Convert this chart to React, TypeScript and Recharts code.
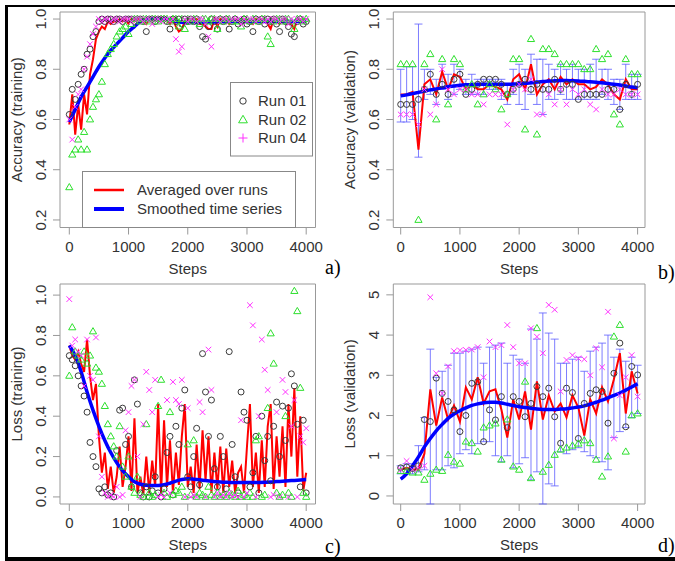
import React from 'react';
import { ComposedChart, Scatter, Line, XAxis, YAxis, ReferenceArea, ErrorBar } from 'recharts';

// training steps at which values were logged
const STEPS_50 = [
  0, 50, 100, 150, 200, 250, 300, 350, 400, 450,
  500, 550, 600, 650, 700, 750, 800, 850, 900, 950,
  1000, 1050, 1100, 1150, 1200, 1250, 1300, 1350, 1400, 1450,
  1500, 1550, 1600, 1650, 1700, 1750, 1800, 1850, 1900, 1950,
  2000, 2050, 2100, 2150, 2200, 2250, 2300, 2350, 2400, 2450,
  2500, 2550, 2600, 2650, 2700, 2750, 2800, 2850, 2900, 2950,
  3000, 3050, 3100, 3150, 3200, 3250, 3300, 3350, 3400, 3450,
  3500, 3550, 3600, 3650, 3700, 3750, 3800, 3850, 3900, 3950,
  4000,
];
const STEPS_100 = [
  0, 100, 200, 300, 400, 500, 600, 700, 800, 900,
  1000, 1100, 1200, 1300, 1400, 1500, 1600, 1700, 1800, 1900,
  2000, 2100, 2200, 2300, 2400, 2500, 2600, 2700, 2800, 2900,
  3000, 3100, 3200, 3300, 3400, 3500, 3600, 3700, 3800, 3900,
  4000,
];
const X_TICKS = [0, 1000, 2000, 3000, 4000];
const ACC_TICKS = [0.2, 0.4, 0.6, 0.8, 1.0];
const LOSS_TRAIN_TICKS = [0, 0.2, 0.4, 0.6, 0.8, 1.0];
const LOSS_VAL_TICKS = [0, 1, 2, 3, 4, 5];

// a) accuracy (training)
const accTrainRun01 = [
  0.62, 0.72, 0.68, 0.74, 0.78, 0.80, 0.86, 0.88, 0.93, 0.95,
  0.99, 1.0, 0.99, 1.0, 1.0, 0.99, 1.0, 1.0, 0.99, 1.0,
  1.0, 1.0, 0.99, 1.0, 1.0, 0.99, 0.95, 1.0, 1.0, 0.99,
  1.0, 1.0, 1.0, 0.99, 0.96, 1.0, 0.99, 1.0, 0.98, 1.0,
  0.99, 1.0, 0.99, 1.0, 0.97, 0.93, 0.92, 0.97, 1.0, 0.99,
  0.96, 1.0, 0.99, 1.0, 0.96, 0.99, 1.0, 0.98, 0.99, 1.0,
  0.98, 0.99, 0.95, 1.0, 0.99, 1.0, 0.98, 1.0, 0.99, 1.0,
  0.98, 0.95, 1.0, 0.99, 0.97, 0.94, 0.93, 0.99, 1.0, 0.98,
  0.99,
];
const accTrainRun02 = [
  0.33, 0.46, 0.48, 0.52, 0.48, 0.55, 0.48, 0.60, 0.65, 0.68,
  0.70, 0.75, 0.82, 0.86, 0.88, 0.90, 0.93, 0.95, 0.96, 0.97,
  0.94, 0.98, 1.0, 1.0, 0.99, 1.0, 1.0, 0.99, 1.0, 1.0,
  0.99, 1.0, 1.0, 1.0, 0.99, 1.0, 1.0, 0.97, 1.0, 0.96,
  1.0, 0.99, 1.0, 1.0, 0.98, 1.0, 1.0, 0.99, 1.0, 1.0,
  0.96, 1.0, 0.99, 1.0, 1.0, 0.99, 1.0, 0.99, 0.97, 1.0,
  1.0, 0.99, 1.0, 1.0, 0.99, 1.0, 1.0, 0.93, 0.90, 0.99,
  1.0, 1.0, 0.99, 1.0, 1.0, 0.99, 0.96, 1.0, 1.0, 0.99,
  1.0,
];
const accTrainRun04 = [
  0.60, 0.52, 0.65, 0.70, 0.72, 0.80, 0.85, 0.90, 0.94, 0.97,
  1.0, 0.99, 1.0, 1.0, 0.99, 1.0, 1.0, 0.99, 1.0, 1.0,
  1.0, 0.99, 1.0, 1.0, 1.0, 0.99, 1.0, 1.0, 0.98, 1.0,
  1.0, 0.99, 1.0, 1.0, 0.99, 1.0, 0.92, 0.87, 0.89, 1.0,
  0.99, 1.0, 1.0, 0.99, 1.0, 1.0, 0.98, 0.93, 0.89, 1.0,
  1.0, 0.99, 1.0, 1.0, 0.99, 1.0, 1.0, 1.0, 0.98, 1.0,
  0.99, 1.0, 1.0, 0.99, 1.0, 1.0, 0.99, 1.0, 0.99, 1.0,
  1.0, 0.99, 1.0, 1.0, 0.98, 1.0, 0.99, 1.0, 1.0, 0.99,
  1.0,
];
const accTrainAvg = [
  0.58, 0.70, 0.54, 0.66, 0.56, 0.70, 0.62, 0.78, 0.84, 0.92,
  0.95, 0.97, 0.96, 0.99, 0.98, 0.99, 0.99, 1.0, 0.99, 1.0,
  0.98, 1.0, 0.99, 1.0, 1.0, 0.99, 0.98, 1.0, 0.99, 1.0,
  1.0, 1.0, 1.0, 0.99, 0.98, 1.0, 0.97, 0.95, 0.96, 0.99,
  0.99, 1.0, 1.0, 1.0, 0.98, 0.98, 0.97, 0.96, 0.96, 1.0,
  0.97, 1.0, 0.99, 1.0, 0.98, 0.99, 1.0, 0.99, 0.98, 1.0,
  0.99, 0.99, 0.98, 1.0, 0.99, 1.0, 0.99, 0.98, 0.96, 1.0,
  0.99, 0.98, 1.0, 1.0, 0.98, 0.98, 0.96, 1.0, 1.0, 0.99,
  1.0,
];
const accTrainSmooth = [
  0.59, 0.64, 0.69, 0.73, 0.77, 0.81, 0.845, 0.875, 0.90, 0.925,
  0.95, 0.97, 0.99, 0.998, 1.0, 1.0, 1.0, 0.997, 0.99, 0.987,
  0.986, 0.986, 0.987, 0.988, 0.988, 0.989, 0.989, 0.99, 0.99, 0.99,
  0.99, 0.99, 0.99, 0.99, 0.99, 0.99, 0.99, 0.99, 0.99, 0.99,
  0.99,
];

// b) accuracy (validation)
const accValRun01 = [
  0.66, 0.66, 0.66, 0.68, 0.72, 0.78, 0.70, 0.74, 0.70, 0.76,
  0.78, 0.70, 0.72, 0.74, 0.76, 0.76, 0.76, 0.74, 0.70, 0.72,
  0.74, 0.76, 0.72, 0.74, 0.72, 0.72, 0.76, 0.72, 0.74, 0.74,
  0.68, 0.70, 0.70, 0.70, 0.70, 0.72, 0.72, 0.64, 0.74, 0.70,
  0.74,
];
const accValRun02 = [
  0.82, 0.82, 0.82, 0.20, 0.82, 0.86, 0.60, 0.84, 0.66, 0.84,
  0.82, 0.72, 0.74, 0.66, 0.70, 0.74, 0.72, 0.64, 0.70, 0.84,
  0.84, 0.56, 0.92, 0.54, 0.88, 0.88, 0.86, 0.82, 0.82, 0.82,
  0.82, 0.80, 0.80, 0.88, 0.84, 0.86, 0.62, 0.58, 0.84, 0.78,
  0.78,
];
const accValRun04 = [
  0.62, 0.62, 0.62, 0.58, 0.72, 0.62, 0.66, 0.80, 0.72, 0.70,
  0.72, 0.72, 0.70, 0.70, 0.66, 0.70, 0.70, 0.70, 0.58, 0.72,
  0.74, 0.72, 0.76, 0.62, 0.62, 0.70, 0.66, 0.72, 0.66, 0.72,
  0.70, 0.72, 0.66, 0.64, 0.72, 0.70, 0.70, 0.72, 0.70, 0.70,
  0.70,
];
const accValAvg = [
  0.70, 0.70, 0.71, 0.48, 0.74, 0.76, 0.70, 0.79, 0.72, 0.78,
  0.77, 0.72, 0.74, 0.72, 0.72, 0.74, 0.73, 0.72, 0.68, 0.76,
  0.78, 0.72, 0.82, 0.70, 0.74, 0.76, 0.72, 0.77, 0.74, 0.76,
  0.74, 0.74, 0.72, 0.73, 0.76, 0.74, 0.70, 0.68, 0.76, 0.72,
  0.72,
];
const accValSmooth = [
  0.694, 0.698, 0.703, 0.708, 0.713, 0.718, 0.722, 0.726, 0.73, 0.733,
  0.736, 0.738, 0.739, 0.74, 0.74, 0.74, 0.74, 0.74, 0.74, 0.741,
  0.742, 0.744, 0.746, 0.749, 0.751, 0.753, 0.754, 0.755, 0.755, 0.754,
  0.753, 0.752, 0.75, 0.748, 0.746, 0.743, 0.74, 0.737, 0.733, 0.729,
  0.726,
];
const accValLow = [
  0.59, 0.59, 0.60, 0.45, 0.68, 0.70, 0.66, 0.72, 0.68, 0.70,
  0.72, 0.70, 0.70, 0.70, 0.70, 0.72, 0.72, 0.68, 0.66, 0.70,
  0.66, 0.64, 0.70, 0.66, 0.62, 0.68, 0.68, 0.70, 0.68, 0.68,
  0.68, 0.68, 0.68, 0.68, 0.70, 0.68, 0.66, 0.64, 0.68, 0.68,
  0.68,
];
const accValHigh = [
  0.80, 0.81, 0.81, 0.98, 0.80, 0.80, 0.76, 0.82, 0.78, 0.82,
  0.80, 0.76, 0.78, 0.76, 0.76, 0.76, 0.76, 0.76, 0.74, 0.80,
  0.82, 0.80, 0.86, 0.84, 0.84, 0.82, 0.80, 0.82, 0.80, 0.82,
  0.80, 0.80, 0.82, 0.84, 0.80, 0.80, 0.76, 0.76, 0.82, 0.78,
  0.78,
];

// c) loss (training)
const lossTrainRun01 = [
  0.70, 0.68, 0.65, 0.60, 0.55, 0.50, 0.42, 0.27, 0.20, 0.15,
  0.04, 0.02, 0.05, 0.01, 0.02, 0.00, 0.23, 0.43, 0.44, 0.26,
  0.30, 0.05, 0.58, 0.46, 0.02, 0.00, 0.05, 0.00, 0.03, 0.10,
  0.02, 0.00, 0.04, 0.22, 0.30, 0.01, 0.35, 0.26, 0.44, 0.53,
  0.10, 0.05, 0.20, 0.34, 0.06, 0.71, 0.52, 0.30, 0.48, 0.14,
  0.05, 0.30, 0.20, 0.04, 0.72, 0.26, 0.10, 0.02, 0.52, 0.42,
  0.38, 0.05, 0.12, 0.30, 0.02, 0.40, 0.18, 0.30, 0.08, 0.35,
  0.47, 0.20, 0.45, 0.28, 0.44, 0.61, 0.55, 0.36, 0.05, 0.38,
  0.02,
];
const lossTrainRun02 = [
  0.60, 0.84, 0.72, 0.70, 0.68, 0.72, 0.66, 0.70, 0.82, 0.64,
  0.62, 0.56, 0.45, 0.36, 0.30, 0.25, 0.20, 0.35, 0.15, 0.10,
  0.20, 0.05, 0.02, 0.10, 0.01, 0.00, 0.36, 0.02, 0.00, 0.01,
  0.45, 0.58, 0.02, 0.00, 0.42, 0.01, 0.03, 0.02, 0.05, 0.00,
  0.26, 0.01, 0.28, 0.00, 0.02, 0.01, 0.00, 0.05, 0.01, 0.00,
  0.02, 0.00, 0.01, 0.00, 0.02, 0.01, 0.00, 0.03, 0.00, 0.01,
  0.00, 0.02, 0.00, 0.28, 0.30, 0.00, 0.01, 0.44, 0.81, 0.66,
  0.02, 0.00, 0.01, 0.40, 0.02, 0.00, 1.02, 0.92, 0.54, 0.02,
  0.00,
];
const lossTrainRun04 = [
  0.98, 0.75, 0.78, 0.72, 0.70, 0.55, 0.78, 0.60, 0.58, 0.79,
  0.30, 0.10, 0.02, 0.00, 0.01, 0.00, 0.05, 0.00, 0.01, 0.33,
  0.42, 0.55, 0.58, 0.20, 0.00, 0.36, 0.62, 0.53, 0.42, 0.58,
  0.00, 0.01, 0.00, 0.48, 0.02, 0.57, 0.48, 0.46, 0.58, 0.00,
  0.44, 0.00, 0.01, 0.00, 0.47, 0.42, 0.00, 0.73, 0.53, 0.00,
  0.02, 0.00, 0.01, 0.00, 0.02, 0.00, 0.01, 0.00, 0.38, 0.00,
  0.02, 0.95, 0.85, 0.00, 0.40, 0.78, 0.63, 0.53, 0.00, 0.01,
  0.42, 0.00, 0.58, 0.52, 0.00, 0.35, 0.48, 0.00, 0.30, 0.27,
  0.34,
];
const lossTrainAvg = [
  0.75, 0.70, 0.68, 0.72, 0.66, 0.62, 0.78, 0.60, 0.48, 0.56,
  0.30, 0.12, 0.22, 0.04, 0.15, 0.02, 0.10, 0.25, 0.05, 0.15,
  0.30, 0.03, 0.39, 0.02, 0.10, 0.01, 0.20, 0.02, 0.18, 0.05,
  0.46, 0.02, 0.38, 0.05, 0.28, 0.02, 0.22, 0.06, 0.30, 0.46,
  0.05, 0.15, 0.02, 0.26, 0.04, 0.33, 0.08, 0.30, 0.02, 0.22,
  0.04, 0.25, 0.02, 0.24, 0.05, 0.18, 0.02, 0.12, 0.15, 0.02,
  0.25, 0.46, 0.05, 0.22, 0.02, 0.28, 0.05, 0.35, 0.46, 0.04,
  0.30, 0.10, 0.35, 0.05, 0.46, 0.20, 0.54, 0.10, 0.40, 0.03,
  0.12,
];
const lossTrainSmooth = [
  0.75, 0.70, 0.62, 0.52, 0.43, 0.35, 0.28, 0.22, 0.17, 0.13,
  0.10, 0.075, 0.063, 0.058, 0.057, 0.057, 0.06, 0.068, 0.078, 0.086,
  0.09, 0.088, 0.085, 0.081, 0.078, 0.075, 0.073, 0.072, 0.071, 0.071,
  0.071, 0.071, 0.072, 0.073, 0.074, 0.076, 0.078, 0.08, 0.082, 0.084,
  0.086,
];

// d) loss (validation)
const lossValRun01 = [
  0.70, 0.72, 0.68, 0.75, 1.90, 1.85, 2.93, 2.55, 2.35, 2.14,
  1.60, 2.00, 2.80, 2.84, 1.35, 2.14, 1.89, 2.47, 1.70, 2.47,
  2.35, 1.97, 2.30, 2.72, 2.47, 2.68, 1.97, 1.31, 2.68, 2.57,
  1.43, 2.30, 2.55, 2.64, 2.60, 1.81, 3.05, 3.80, 1.72, 3.22,
  3.01,
];
const lossValRun02 = [
  0.62, 0.62, 0.58, 0.58, 0.40, 0.55, 0.65, 0.62, 1.02, 0.85,
  0.80, 1.35, 1.31, 1.10, 1.70, 1.75, 1.80, 0.90, 1.90, 0.73,
  0.65, 2.84, 0.44, 4.17, 0.60, 0.77, 1.02, 1.15, 1.20, 1.25,
  1.30, 1.38, 1.31, 0.90, 0.48, 0.98, 3.96, 4.25, 1.10, 2.00,
  2.05,
];
const lossValRun04 = [
  0.65, 0.87, 0.65, 0.70, 0.75, 4.94, 3.05, 2.55, 3.22, 3.60,
  3.62, 3.63, 3.64, 3.70, 2.95, 3.84, 3.70, 3.75, 4.25, 3.70,
  3.30, 3.30, 4.17, 3.96, 3.55, 4.75, 4.63, 2.60, 3.38, 3.50,
  3.42, 3.40, 3.00, 3.67, 3.20, 4.58, 1.43, 2.50, 2.95, 3.50,
  2.47,
];
const lossValAvg = [
  0.65, 0.70, 0.66, 0.66, 1.05, 2.65, 1.75, 2.45, 1.90, 2.25,
  1.85, 2.70, 2.40, 2.95, 2.30, 2.60, 2.65, 2.15, 1.45, 2.40,
  1.90, 2.60, 1.65, 2.85, 1.90, 2.50, 2.10, 2.30, 1.95, 2.50,
  2.20, 1.50, 2.40, 2.05, 2.70, 2.35, 2.90, 3.55, 2.05, 3.10,
  2.55,
];
const lossValSmooth = [
  0.42, 0.55, 0.75, 0.97, 1.22, 1.43, 1.62, 1.78, 1.93, 2.04,
  2.12, 2.19, 2.25, 2.29, 2.32, 2.33, 2.33, 2.31, 2.28, 2.25,
  2.22, 2.20, 2.18, 2.16, 2.15, 2.15, 2.15, 2.16, 2.17, 2.19,
  2.21, 2.24, 2.28, 2.33, 2.38, 2.44, 2.50, 2.56, 2.63, 2.71,
  2.79,
];
const lossValLow = [
  0.55, 0.55, 0.55, 0.60, 0.65, -0.20, 0.65, 0.65, 0.75, 0.70,
  1.05, 1.15, 1.05, 1.30, 1.35, 1.35, 1.00, 0.85, 1.00, 0.70,
  0.80, 0.95, 0.40, 0.60, -0.20, 0.30, 0.25, 1.10, 1.05, 1.15,
  1.20, 1.10, 1.00, 0.95, 0.85, 0.65, 1.45, 1.60, 1.70, 1.95,
  2.05,
];
const lossValHigh = [
  0.75, 0.80, 0.80, 1.25, 1.95, 3.65, 2.95, 3.10, 3.25, 3.55,
  3.55, 3.60, 3.65, 3.70, 3.30, 3.70, 3.75, 3.80, 3.30, 3.50,
  3.40, 3.30, 4.15, 3.90, 4.55, 4.05, 3.90, 3.30, 3.30, 3.40,
  3.45, 3.10, 3.60, 3.70, 3.80, 4.00, 3.45, 3.65, 3.35, 3.45,
  3.25,
];

const FONT = '"Liberation Sans", Arial, sans-serif';
const TEXT = '#333';
const AXIS = '#999';
const C_RUN01 = '#3a3a3a';
const C_RUN02 = '#2ee02e';
const C_RUN04 = '#ff30ff';
const C_AVG = '#ff0000';
const C_SMOOTH = '#0000ff';
const C_ERR = '#5c5cff';

type Pt = { x: number; y: number };
const toPoints = (xs: number[], ys: number[]): Pt[] => ys.map((y, i) => ({ x: xs[i], y }));
const toBars = (xs: number[], lo: number[], hi: number[]) =>
  lo.map((l, i) => ({ x: xs[i], mid: (l + hi[i]) / 2, half: (hi[i] - l) / 2 }));

const circleShape = (p: any) => (
  <circle cx={p.cx} cy={p.cy} r={3} fill="none" stroke={C_RUN01} strokeWidth={1} />
);
const triangleShape = (p: any) => (
  <polygon
    points={`${p.cx},${p.cy - 3.8} ${p.cx - 3.6},${p.cy + 2.4} ${p.cx + 3.6},${p.cy + 2.4}`}
    fill="none" stroke={C_RUN02} strokeWidth={1}
  />
);
const crossShape = (p: any) => (
  <g stroke={C_RUN04} strokeWidth={1}>
    <line x1={p.cx - 2.8} y1={p.cy - 2.8} x2={p.cx + 2.8} y2={p.cy + 2.8} />
    <line x1={p.cx - 2.8} y1={p.cy + 2.8} x2={p.cx + 2.8} y2={p.cy - 2.8} />
  </g>
);

const XTick = (props: any) => (
  <text x={props.x} y={props.y} dy={15} textAnchor="middle" fontSize={15} fontFamily={FONT} fill={TEXT}>
    {props.payload.value}
  </text>
);

const makeYTick = (digits: number) => (props: any) => {
  const x = props.x - 5;
  return (
    <text x={x} y={props.y} transform={`rotate(-90 ${x} ${props.y})`} textAnchor="middle"
      fontSize={15} fontFamily={FONT} fill={TEXT}>
      {Number(props.payload.value).toFixed(digits)}
    </text>
  );
};

// axis title; its own position props are named so Recharts' label props do not override them
const AxisText = ({ posX, posY, text, vertical }: { posX: number; posY: number; text: string; vertical?: boolean }) => (
  <text x={posX} y={posY} transform={vertical ? `rotate(-90 ${posX} ${posY})` : undefined} textAnchor="middle"
    fontSize={15} fontFamily={FONT} fill={TEXT}>
    {text}
  </text>
);

interface PanelProps {
  left: number;
  top: number;
  width: number;
  height: number;
  plot: { l: number; r: number; t: number; b: number };
  xDomain: [number, number];
  yDomain: [number, number];
  yTicks: number[];
  digits: number;
  yTitle: string;
  steps: number[];
  barSteps: number[];
  run01: number[];
  run02: number[];
  run04: number[];
  avg: number[];
  smooth: number[];
  low?: number[];
  high?: number[];
}

const Panel = (p: PanelProps) => {
  const margin = { top: p.plot.t, bottom: p.height - p.plot.b - 30, left: p.plot.l - 50, right: p.width - p.plot.r };
  const cx = (p.plot.l + p.plot.r) / 2;
  const cy = (p.plot.t + p.plot.b) / 2;
  const bars = p.low && p.high ? toBars(p.barSteps, p.low, p.high) : null;
  return (
    <div style={{ position: 'absolute', left: p.left, top: p.top }}>
      <ComposedChart width={p.width} height={p.height} margin={margin}>
        <XAxis type="number" dataKey="x" domain={p.xDomain} ticks={X_TICKS} allowDataOverflow interval={0}
          axisLine={false} tickLine={{ stroke: AXIS }} tickSize={7} tickMargin={2} height={30}
          tick={XTick} label={<AxisText posX={cx} posY={p.plot.b + 46} text="Steps" />} />
        <YAxis type="number" domain={p.yDomain} ticks={p.yTicks} allowDataOverflow interval={0}
          axisLine={false} tickLine={{ stroke: AXIS }} tickSize={7} tickMargin={2} width={50}
          tick={makeYTick(p.digits)} label={<AxisText posX={p.plot.l - 38} posY={cy} text={p.yTitle} vertical />} />
        <ReferenceArea x1={p.xDomain[0]} x2={p.xDomain[1]} y1={p.yDomain[0]} y2={p.yDomain[1]}
          fill="none" stroke={AXIS} strokeWidth={1} ifOverflow="visible" />
        <Scatter data={toPoints(p.steps, p.run01)} dataKey="y" shape={circleShape} isAnimationActive={false} />
        <Scatter data={toPoints(p.steps, p.run02)} dataKey="y" shape={triangleShape} isAnimationActive={false} />
        <Scatter data={toPoints(p.steps, p.run04)} dataKey="y" shape={crossShape} isAnimationActive={false} />
        {bars && (
          <Line data={bars} dataKey="mid" stroke="none" dot={false} activeDot={false} isAnimationActive={false}>
            <ErrorBar dataKey="half" width={4} stroke={C_ERR} strokeOpacity={0.8} strokeWidth={1}
              direction="y" isAnimationActive={false} />
          </Line>
        )}
        <Line data={toPoints(p.steps, p.avg)} dataKey="y" type="linear" stroke={C_AVG} strokeWidth={2}
          dot={false} activeDot={false} isAnimationActive={false} />
        <Line data={toPoints(STEPS_100, p.smooth)} dataKey="y" type="monotone" stroke={C_SMOOTH} strokeWidth={3.5}
          dot={false} activeDot={false} isAnimationActive={false} />
      </ComposedChart>
    </div>
  );
};

const Overlay = () => (
  <svg width={675} height={561} style={{ position: 'absolute', left: 0, top: 0, pointerEvents: 'none' }}>
    {/* outer frame */}
    <rect x={5} y={5} width={670} height={2} fill="#000" />
    <rect x={5} y={5} width={3} height={556} fill="#000" />
    <rect x={5} y={557} width={670} height={4} fill="#000" />

    {/* legend: runs */}
    <rect x={230.5} y={82.5} width={82} height={73.5} fill="#fff" stroke="#888" />
    <circle cx={243} cy={101} r={3.2} fill="none" stroke={C_RUN01} />
    <polygon points="243,115.3 238.6,122.8 247.4,122.8" fill="none" stroke={C_RUN02} />
    <g stroke={C_RUN04}>
      <line x1={238.5} y1={138} x2={247.5} y2={138} />
      <line x1={243} y1={133.5} x2={243} y2={142.5} />
    </g>
    <g fontFamily={FONT} fontSize={15} fill={TEXT}>
      <text x={258} y={106.4}>Run 01</text>
      <text x={258} y={125}>Run 02</text>
      <text x={258} y={143.4}>Run 04</text>
    </g>

    {/* legend: lines */}
    <rect x={82.5} y={171.5} width={213} height={56} fill="#fff" stroke="#888" />
    <line x1={94} y1={190} x2={124} y2={190} stroke={C_AVG} strokeWidth={2.5} />
    <line x1={94} y1={209} x2={124} y2={209} stroke={C_SMOOTH} strokeWidth={4} />
    <g fontFamily={FONT} fontSize={15} fill={TEXT}>
      <text x={137} y={195.4}>Averaged over runs</text>
      <text x={137} y={214.4}>Smoothed time series</text>
    </g>

    {/* panel letters */}
    <g fontFamily='"Liberation Serif", "Times New Roman", serif' fontSize={20} fill="#000">
      <text x={325} y={274}>a)</text>
      <text x={658} y={279}>b)</text>
      <text x={325} y={553}>c)</text>
      <text x={658} y={552}>d)</text>
    </g>
  </svg>
);

const App = () => (
  <div style={{ position: 'absolute', left: 0, top: 0, width: 675, height: 561, background: '#fff', overflow: 'hidden' }}>
    <Panel left={0} top={0} width={337} height={280} plot={{ l: 60, r: 315.5, t: 12, b: 227.5 }}
      xDomain={[-157, 4157]} yDomain={[0.17, 1.028]} yTicks={ACC_TICKS} digits={1}
      yTitle="Accuracy (training)" steps={STEPS_50} barSteps={STEPS_100}
      run01={accTrainRun01} run02={accTrainRun02} run04={accTrainRun04}
      avg={accTrainAvg} smooth={accTrainSmooth} />
    <Panel left={337} top={0} width={338} height={280} plot={{ l: 56.3, r: 308, t: 12, b: 227.5 }}
      xDomain={[-125, 4125]} yDomain={[0.17, 1.028]} yTicks={ACC_TICKS} digits={1}
      yTitle="Accuracy (validation)" steps={STEPS_100} barSteps={STEPS_100}
      run01={accValRun01} run02={accValRun02} run04={accValRun04}
      avg={accValAvg} smooth={accValSmooth} low={accValLow} high={accValHigh} />
    <Panel left={0} top={280} width={337} height={281} plot={{ l: 60, r: 315.5, t: 4, b: 224 }}
      xDomain={[-157, 4157]} yDomain={[-0.035, 1.055]} yTicks={LOSS_TRAIN_TICKS} digits={1}
      yTitle="Loss (training)" steps={STEPS_50} barSteps={STEPS_100}
      run01={lossTrainRun01} run02={lossTrainRun02} run04={lossTrainRun04}
      avg={lossTrainAvg} smooth={lossTrainSmooth} />
    <Panel left={337} top={280} width={338} height={281} plot={{ l: 56.3, r: 308, t: 4, b: 224 }}
      xDomain={[-125, 4125]} yDomain={[-0.2, 5.27]} yTicks={LOSS_VAL_TICKS} digits={0}
      yTitle="Loss (validation)" steps={STEPS_100} barSteps={STEPS_100}
      run01={lossValRun01} run02={lossValRun02} run04={lossValRun04}
      avg={lossValAvg} smooth={lossValSmooth} low={lossValLow} high={lossValHigh} />
    <Overlay />
  </div>
);

export default App;
